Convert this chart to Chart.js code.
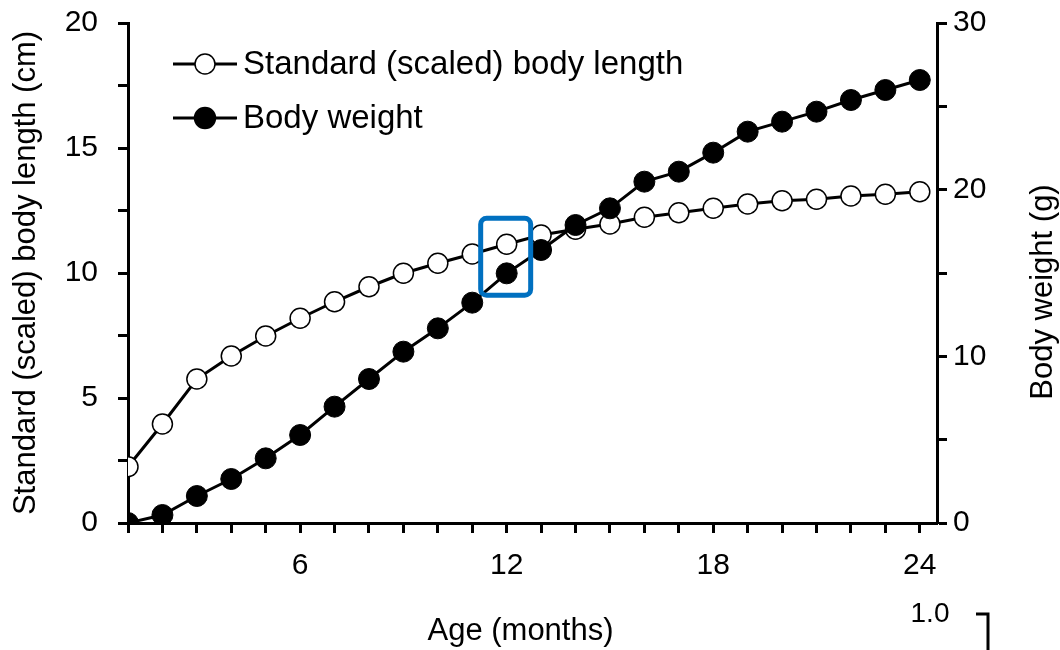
<!DOCTYPE html>
<html>
<head>
<meta charset="utf-8">
<script src="https://cdn.jsdelivr.net/npm/chart.js@4.4.1/dist/chart.umd.min.js"></script>
<style>
  html, body { margin: 0; padding: 0; background: #fff; }
  #wrap { width: 1060px; height: 650px; }
</style>
</head>
<body>
<div id="wrap"><canvas id="growth" width="1060" height="650"></canvas></div>
<script>
// values
const months = [1, 2, 3, 4, 5, 6, 7, 8, 9, 10, 11, 12, 13, 14, 15, 16, 17, 18, 19, 20, 21, 22, 23, 24];
const lengthCm = [2.25, 3.96, 5.76, 6.68, 7.48, 8.19, 8.85, 9.45, 9.99, 10.39, 10.76, 11.15,
  11.52, 11.75, 11.96, 12.23, 12.41, 12.59, 12.76, 12.89, 12.95, 13.08, 13.15, 13.25];
const weightG = [0, 0.48, 1.62, 2.64, 3.88, 5.28, 6.98, 8.64, 10.28, 11.68, 13.22, 14.98,
  16.38, 17.88, 18.88, 20.48, 21.08, 22.22, 23.48, 24.08, 24.68, 25.38, 25.98, 26.58];
const xLabels = [6, 12, 18, 24];
const leftLabels = [0, 5, 10, 15, 20];
const rightLabels = [0, 10, 20, 30];
const highlightMonth = 12;

const FONT = '"Liberation Sans", Arial, sans-serif';

function pts(ys) {
  return months.map((m, i) => ({ x: m, y: ys[i] }));
}

function noPad(s) {
  s.paddingTop = 0;
  s.paddingBottom = 0;
  s.paddingLeft = 0;
  s.paddingRight = 0;
}

const legendAndNotes = {
  id: 'legendAndNotes',
  afterDatasetsDraw(chart) {
    const ctx = chart.ctx;
    const xs = chart.scales.x, yl = chart.scales.y, yr = chart.scales.y1;

    // blue box around the 12 month points
    const cx = xs.getPixelForValue(highlightMonth);
    const i = months.indexOf(highlightMonth);
    const p1 = yl.getPixelForValue(lengthCm[i]);
    const p2 = yr.getPixelForValue(weightG[i]);
    const top = Math.min(p1, p2) - 26, bot = Math.max(p1, p2) + 22;
    ctx.save();
    ctx.strokeStyle = '#0070c0';
    ctx.lineWidth = 5;
    ctx.beginPath();
    ctx.roundRect(cx - 26, top, 50, bot - top, 6);
    ctx.stroke();
    ctx.restore();
  },
  afterDraw(chart) {
    const ctx = chart.ctx;
    const area = chart.chartArea;
    ctx.save();

    // legend: line + marker + label
    const items = [chart.data.datasets[0], chart.data.datasets[1]];
    items.forEach((ds, k) => {
      const y = area.top + 41 + k * 54;
      const x0 = area.left + 45;
      ctx.strokeStyle = '#000';
      ctx.lineWidth = 3;
      ctx.beginPath();
      ctx.moveTo(x0, y);
      ctx.lineTo(x0 + 64, y);
      ctx.stroke();
      ctx.beginPath();
      ctx.arc(x0 + 32, y, ds.pointRadius, 0, Math.PI * 2);
      ctx.fillStyle = ds.pointBackgroundColor;
      ctx.fill();
      ctx.lineWidth = 1.5;
      ctx.stroke();
      ctx.fillStyle = '#000';
      ctx.font = '33px ' + FONT;
      ctx.textAlign = 'left';
      ctx.textBaseline = 'middle';
      ctx.fillText(ds.label, x0 + 70, y + 1);
    });

    // x axis title
    ctx.font = '31px ' + FONT;
    ctx.textAlign = 'center';
    ctx.textBaseline = 'middle';
    ctx.fillText('Age (months)', (area.left + area.right) / 2 - 12, 631);

    // right axis title, reading bottom to top
    ctx.font = '31px ' + FONT;
    ctx.translate(1043, (area.top + area.bottom) / 2 + 19);
    ctx.rotate(-Math.PI / 2);
    ctx.fillText('Body weight (g)', 0, 0);
    ctx.restore();

    // fragment of the next panel below
    ctx.save();
    ctx.fillStyle = '#000';
    ctx.font = '28px ' + FONT;
    ctx.textAlign = 'center';
    ctx.textBaseline = 'middle';
    ctx.fillText('1.0', 930, 614);
    ctx.strokeStyle = '#000';
    ctx.lineWidth = 3;
    ctx.beginPath();
    ctx.moveTo(976, 614);
    ctx.lineTo(988, 614);
    ctx.lineTo(988, 650);
    ctx.stroke();
    ctx.restore();
  }
};

const axisGrid = {
  drawOnChartArea: false,
  drawTicks: true,
  tickLength: 10,
  tickWidth: 3,
  tickColor: '#000'
};

new Chart(document.getElementById('growth'), {
  type: 'line',
  data: {
    datasets: [
      {
        label: 'Standard (scaled) body length',
        data: pts(lengthCm),
        yAxisID: 'y',
        borderColor: '#000',
        borderWidth: 3,
        pointRadius: 10,
        pointBackgroundColor: '#fff',
        pointBorderColor: '#000',
        pointBorderWidth: 1.5,
        tension: 0,
        order: 1
      },
      {
        label: 'Body weight',
        data: pts(weightG),
        yAxisID: 'y1',
        borderColor: '#000',
        borderWidth: 3,
        pointRadius: 10.5,
        pointBackgroundColor: '#000',
        pointBorderColor: '#000',
        pointBorderWidth: 1,
        tension: 0,
        order: 0
      }
    ]
  },
  options: {
    responsive: false,
    animation: false,
    events: [],
    layout: { padding: { top: 23, left: 0, right: 0, bottom: 0 } },
    plugins: { legend: { display: false }, tooltip: { enabled: false } },
    scales: {
      x: {
        type: 'linear',
        min: 1,
        max: 24.5,
        afterFit(s) { s.height = 127; noPad(s); },
        afterBuildTicks(s) {
          s.ticks = months.map(m => ({ value: m }));
        },
        border: { display: true, color: '#000', width: 3 },
        grid: axisGrid,
        ticks: {
          autoSkip: false,
          maxRotation: 0,
          padding: 15,
          color: '#000',
          font: { family: FONT, size: 30 },
          callback: v => (xLabels.includes(v) ? String(v) : '')
        }
      },
      y: {
        type: 'linear',
        position: 'left',
        min: 0,
        max: 20,
        afterFit(s) { s.width = 128; noPad(s); },
        border: { display: true, color: '#000', width: 3 },
        grid: axisGrid,
        ticks: {
          stepSize: 2.5,
          autoSkip: false,
          padding: 20,
          color: '#000',
          font: { family: FONT, size: 30 },
          callback: v => (leftLabels.includes(v) ? String(v) : '')
        },
        title: {
          display: true,
          text: 'Standard (scaled) body length (cm)',
          color: '#000',
          font: { family: FONT, size: 31 },
          padding: { top: 8, bottom: 0 }
        }
      },
      y1: {
        type: 'linear',
        position: 'right',
        min: 0,
        max: 30,
        afterFit(s) { s.width = 123; noPad(s); },
        border: { display: true, color: '#000', width: 3 },
        grid: axisGrid,
        ticks: {
          stepSize: 5,
          autoSkip: false,
          padding: 6,
          color: '#000',
          font: { family: FONT, size: 30 },
          callback: v => (rightLabels.includes(v) ? String(v) : '')
        }
      }
    }
  },
  plugins: [legendAndNotes]
});
</script>
</body>
</html>
